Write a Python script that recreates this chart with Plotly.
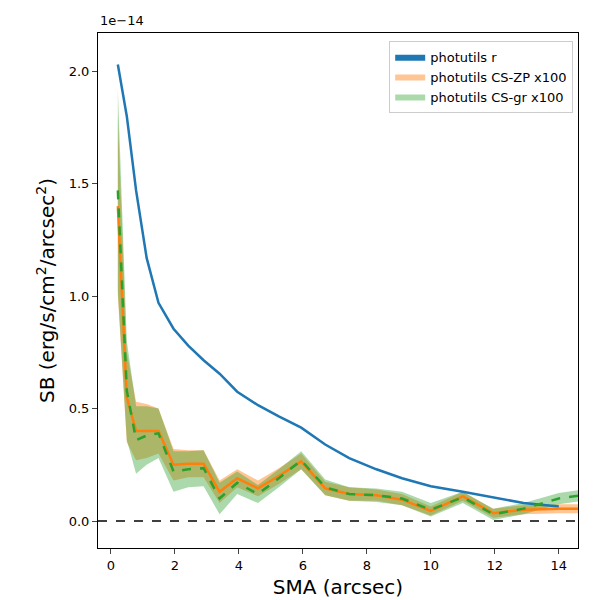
import plotly.graph_objects as go

sma = [0.22,0.5,0.79,1.12,1.49,1.96,2.42,2.9,3.4,3.95,4.6,5.25,5.95,6.7,7.45,8.3,9.1,10.0,11.0,11.95,12.9,14.0,15.0]
sb_r = [2.03,1.80,1.47,1.17,0.97,0.855,0.78,0.715,0.655,0.575,0.515,0.465,0.415,0.34,0.28,0.23,0.19,0.155,0.13,0.105,0.08,0.065]
sb_zp = [1.40,0.55,0.40,0.40,0.40,0.25,0.255,0.255,0.13,0.19,0.145,0.20,0.265,0.145,0.12,0.115,0.095,0.045,0.11,0.035,0.05,0.055,0.055]
err_zp = [0.4,0.2,0.13,0.12,0.1,0.07,0.06,0.06,0.05,0.04,0.035,0.035,0.035,0.03,0.03,0.025,0.025,0.02,0.02,0.02,0.02,0.02,0.02]
sb_gr = [1.47,0.58,0.36,0.38,0.39,0.22,0.23,0.235,0.10,0.17,0.12,0.19,0.27,0.15,0.12,0.115,0.10,0.05,0.105,0.03,0.055,0.10,0.12]
err_gr = [0.45,0.22,0.15,0.13,0.11,0.09,0.08,0.08,0.07,0.05,0.04,0.04,0.04,0.035,0.03,0.03,0.03,0.03,0.025,0.025,0.025,0.025,0.025]
yticks = [0.0,0.5,1.0,1.5,2.0]

fig = go.Figure()
def band(y, e, color, name):
    up = [a+b for a,b in zip(y,e)]
    lo = [a-b for a,b in zip(y,e)]
    fig.add_trace(go.Scatter(x=sma+sma[::-1], y=up+lo[::-1], fill='toself', fillcolor=color,
                             line=dict(width=0), mode='lines', name=name, showlegend=True, hoverinfo='skip'))

fig.add_trace(go.Scatter(x=[None], y=[None], fill='toself', fillcolor='#1f77b4', line=dict(width=0),
                         mode='lines', name='photutils r'))
band(sb_zp, err_zp, 'rgba(255,127,14,0.45)', 'photutils CS-ZP x100')
band(sb_gr, err_gr, 'rgba(44,160,44,0.4)', 'photutils CS-gr x100')
fig.add_trace(go.Scatter(x=sma[:len(sb_r)], y=sb_r, mode='lines', line=dict(color='#1f77b4', width=2.5), showlegend=False))
fig.add_trace(go.Scatter(x=sma, y=sb_zp, mode='lines', line=dict(color='#ff7f0e', width=2.5), showlegend=False))
fig.add_trace(go.Scatter(x=sma, y=sb_gr, mode='lines', line=dict(color='#2ca02c', width=2.5, dash='dash'), showlegend=False))
fig.add_hline(y=0, line=dict(color='black', width=1.5, dash='dash'))

fig.update_layout(width=600, height=600, plot_bgcolor='white', paper_bgcolor='white',
                  margin=dict(l=90, r=30, t=25, b=60), font=dict(family='DejaVu Sans', color='black'),
                  legend=dict(x=0.99, y=0.985, xanchor='right', yanchor='top', bordercolor='#cccccc',
                              borderwidth=1, font=dict(size=13)))
fig.update_xaxes(range=[-0.4,14.6], showgrid=False, showline=True, mirror=True, linecolor='black',
                 ticks='outside', tickvals=[0,2,4,6,8,10,12,14], tickfont=dict(size=13),
                 title=dict(text='SMA (arcsec)', font=dict(size=20), standoff=8), zeroline=False, automargin=False)
fig.update_yaxes(range=[-0.12,2.17], showgrid=False, showline=True, mirror=True, linecolor='black',
                 ticks='outside', tickvals=yticks, ticktext=[f'{v:.1f}' for v in yticks], tickfont=dict(size=13),
                 title=dict(text='SB (erg/s/cm<sup>2</sup>/arcsec<sup>2</sup>)', font=dict(size=20), standoff=8),
                 zeroline=False, automargin=False)
fig.add_annotation(text='1e−14', xref='paper', yref='paper', x=0, y=1.005, xanchor='left', yanchor='bottom',
                   showarrow=False, font=dict(size=13))
fig.write_html('out.html')
